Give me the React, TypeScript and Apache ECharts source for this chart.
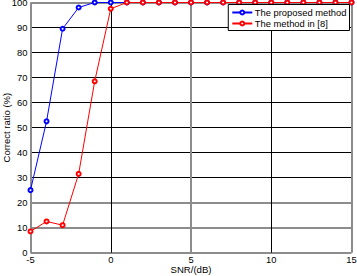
import React, { useEffect, useRef } from "react";
import * as echarts from "echarts";

const snr = [-5, -4, -3, -2, -1, 0, 1, 2, 3, 4, 5, 6, 7, 8, 9, 10, 11, 12, 13, 14, 15];
const proposed = [25, 52.5, 89.5, 98, 100, 100, 100, 100, 100, 100, 100, 100, 100, 100, 100, 100, 100, 100, 100, 100, 100];
const method8 = [8.5, 12.5, 11, 31.5, 68.5, 97.5, 100, 100, 100, 100, 100, 100, 100, 100, 100, 100, 100, 100, 100, 100, 100];
const seriesNames = ["The proposed method", "The method in [8]"];

const FONT = "Liberation Sans, Arial, sans-serif";
const T = "rgba(0,0,0,0)";
const G = "#8c8c8c";

export default function App() {
  const ref = useRef<HTMLDivElement>(null);
  useEffect(() => {
    if (!ref.current) return;
    const chart = echarts.init(ref.current, null, { renderer: "svg" });
    const mk = (ys: number[]) => snr.map((x, i) => [x, ys[i]]);
    const baseX = { type: "value", min: -5, max: 15, interval: 5 };
    const baseY = { type: "value", min: 0, max: 100, interval: 10 };
    chart.setOption({
      animation: false,
      backgroundColor: "#fff",
      textStyle: { fontFamily: FONT },
      grid: { left: 30.5, right: 5.5, top: 2.5, bottom: 23.3, containLabel: false, outerBoundsMode: "none" },
      legend: {
        right: 7.5,
        top: 4.5,
        orient: "vertical",
        backgroundColor: "#fff",
        borderColor: "#000",
        borderWidth: 1,
        borderRadius: 0,
        padding: [2.5, 3, 1.5, 3],
        itemGap: 0,
        itemWidth: 20,
        itemHeight: 5,
        textStyle: { fontSize: 9.4, lineHeight: 11, color: "#000", fontFamily: FONT, padding: [0, 0, 0, -2.5] },
        data: seriesNames,
      },
      xAxis: [
        {
          ...baseX,
          name: "SNR/(dB)",
          nameLocation: "middle",
          nameGap: 11.5,
          nameMoveOverlap: false,
          nameTextStyle: { fontSize: 9.6, color: "#000" },
          axisLine: { show: false, onZero: false },
          axisTick: { show: false },
          axisLabel: { fontSize: 9.4, color: "#000", margin: 2 },
          splitLine: { show: true, lineStyle: { color: [T, "#000", T, "#000", T], width: 1 } },
        },
        {
          ...baseX,
          position: "bottom",
          axisLine: { show: false, onZero: false },
          axisTick: { show: false },
          axisLabel: { show: false },
          splitLine: { show: true, lineStyle: { color: [G, T, G, T, G], width: 2 } },
        },
      ],
      yAxis: [
        {
          ...baseY,
          name: "Correct ratio (%)",
          nameLocation: "middle",
          nameGap: 19.5,
          nameMoveOverlap: false,
          nameTextStyle: { fontSize: 9.5, color: "#000" },
          axisLine: { show: false },
          axisTick: { show: false },
          axisLabel: { fontSize: 9.4, color: "#000", margin: 3 },
          splitLine: {
            show: true,
            lineStyle: { color: [T, T, T, "#000", "#000", "#000", "#000", "#000", "#000", "#000", T], width: 1 },
          },
        },
        {
          ...baseY,
          position: "left",
          axisLine: { show: false },
          axisTick: { show: false },
          axisLabel: { show: false },
          splitLine: {
            show: true,
            lineStyle: { color: [G, G, G, T, T, T, T, T, T, T, G], width: 2 },
          },
        },
      ],
      series: [
        {
          name: seriesNames[0],
          type: "line",
          xAxisIndex: 0,
          yAxisIndex: 0,
          data: mk(proposed),
          symbol: "emptyCircle",
          symbolSize: 4,
          showAllSymbol: true,
          color: "#0000ff",
          lineStyle: { color: "#0000ff", width: 1 },
          itemStyle: { color: "#0000ff", borderColor: "#0000ff", borderWidth: 1 },
        },
        {
          name: seriesNames[1],
          type: "line",
          xAxisIndex: 0,
          yAxisIndex: 0,
          data: mk(method8),
          symbol: "emptyCircle",
          symbolSize: 4,
          showAllSymbol: true,
          color: "#ff0000",
          lineStyle: { color: "#ff0000", width: 1 },
          itemStyle: { color: "#ff0000", borderColor: "#ff0000", borderWidth: 1 },
        },
      ],
    });
    return () => chart.dispose();
  }, []);
  return <div ref={ref} style={{ width: 357, height: 276, position: "absolute", left: 0, top: 0 }} />;
}
